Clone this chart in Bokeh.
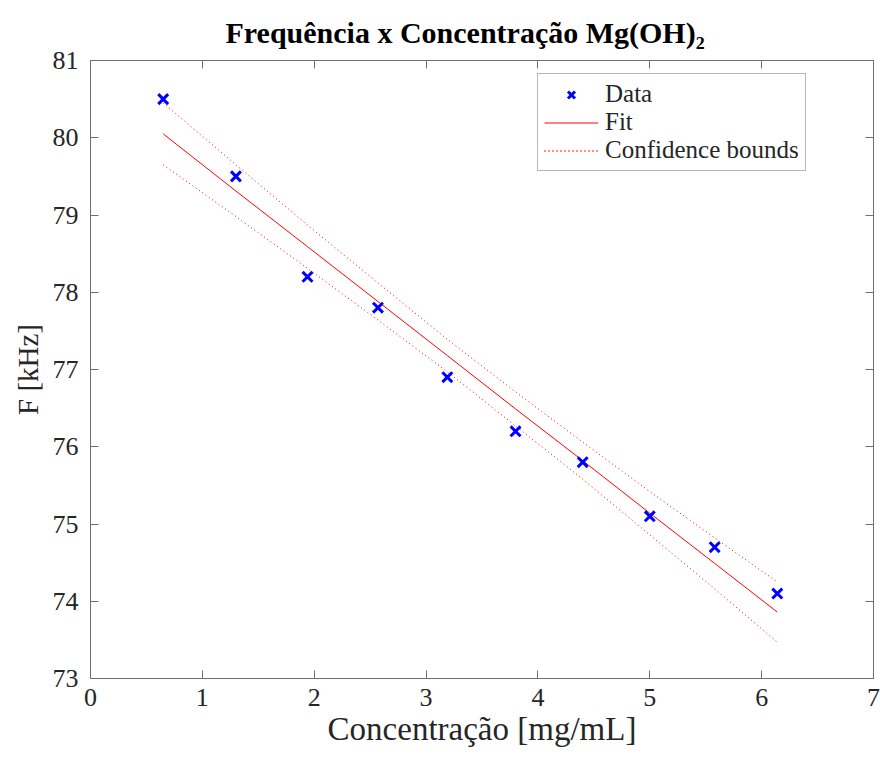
from bokeh.plotting import figure
from bokeh.models import LinearAxis, FixedTicker, Legend, LegendItem, Range1d
from bokeh.embed import file_html
from bokeh.resources import INLINE

# ---- data ----
conc = [0.65, 1.30, 1.94, 2.57, 3.19, 3.80, 4.40, 5.00, 5.58, 6.14]
freq = [80.5, 79.5, 78.2, 77.8, 76.9, 76.2, 75.8, 75.1, 74.7, 74.1]

fit_x = [0.65, 1.30, 1.94, 2.57, 3.19, 3.80, 4.40, 5.00, 5.58, 6.14]
fit_y = [80.05, 79.31, 78.59, 77.88, 77.18, 76.49, 75.82, 75.14, 74.49, 73.86]
upper_y = [80.45, 79.65, 78.87, 78.12, 77.39, 76.71, 76.06, 75.42, 74.82, 74.25]
lower_y = [79.65, 78.98, 78.31, 77.64, 76.97, 76.27, 75.58, 74.86, 74.16, 73.47]

x_ticks = [0, 1, 2, 3, 4, 5, 6, 7]
y_ticks = [73, 74, 75, 76, 77, 78, 79, 80, 81]

title_main = "Frequência x Concentração Mg(OH)"
title_sub = "\u2082"
x_label = "Concentração [mg/mL]"
y_label = "F [kHz]"
legend_labels = ["Data", "Fit", "Confidence bounds"]

FONT = "Liberation Serif"
AX_COLOR = "#6f6f6f"
TXT_COLOR = "#262626"

p = figure(frame_width=783, frame_height=618,
           x_range=Range1d(0, 7), y_range=Range1d(73, 81),
           output_backend="svg", toolbar_location=None,
           min_border_left=90, min_border_right=7,
           min_border_top=60, min_border_bottom=79,
           x_axis_label=x_label, y_axis_label=y_label)

p.grid.visible = False
p.outline_line_color = AX_COLOR
p.outline_line_width = 1
p.background_fill_color = "white"
p.border_fill_color = "white"

for ax, ticks in ((p.xaxis[0], x_ticks), (p.yaxis[0], y_ticks)):
    ax.ticker = FixedTicker(ticks=ticks)
    ax.major_tick_in = 8
    ax.major_tick_out = 0
    ax.minor_tick_line_color = None
    ax.axis_line_color = AX_COLOR
    ax.major_tick_line_color = AX_COLOR
    ax.major_label_text_font = FONT
    ax.major_label_text_font_size = "26px"
    ax.major_label_text_color = TXT_COLOR
    ax.axis_label_text_font = FONT
    ax.axis_label_text_font_style = "normal"
    ax.axis_label_text_color = TXT_COLOR

p.xaxis[0].axis_label_text_font_size = "33px"
p.yaxis[0].axis_label_text_font_size = "29px"
p.xaxis[0].major_label_standoff = 10
p.xaxis[0].axis_label_standoff = 2
p.yaxis[0].major_label_standoff = 12
p.yaxis[0].axis_label_standoff = 6

# box ticks on top and right (no labels)
for loc, ticks in (("right", y_ticks), ("above", x_ticks)):
    ax = LinearAxis(ticker=FixedTicker(ticks=ticks))
    ax.major_tick_in = 8
    ax.major_tick_out = 0
    ax.minor_tick_line_color = None
    ax.axis_line_color = AX_COLOR
    ax.major_tick_line_color = AX_COLOR
    ax.major_label_overrides = {t: "" for t in ticks}
    ax.major_label_standoff = 0
    p.add_layout(ax, loc)

# glyphs
r_up = p.line(fit_x, upper_y, line_color="red", line_width=1, line_dash="1 3")
r_lo = p.line(fit_x, lower_y, line_color="red", line_width=1, line_dash="1 3")
r_fit = p.line(fit_x, fit_y, line_color="red", line_width=1)
r_data = p.scatter(conc, freq, marker="x", size=14, line_color="blue", line_width=3)

legend = Legend(items=[
    LegendItem(label=legend_labels[0], renderers=[r_data]),
    LegendItem(label=legend_labels[1], renderers=[r_fit]),
    LegendItem(label=legend_labels[2], renderers=[r_up, r_lo]),
], location=(447, 507))
legend.label_text_font = FONT
legend.label_text_font_size = "25px"
legend.label_text_color = TXT_COLOR
legend.glyph_width = 54
legend.glyph_height = 25
legend.label_height = 25
legend.spacing = 0
legend.padding = 6
legend.margin = 0
legend.label_standoff = 7
legend.border_line_color = AX_COLOR
legend.border_line_width = 1
legend.background_fill_color = "white"
legend.background_fill_alpha = 1
p.add_layout(legend, "center")

# title
p.title.text = title_main + title_sub
p.title.align = "left"
p.title.offset = 135
p.title.text_font = FONT
p.title.text_font_size = "30px"
p.title.text_font_style = "bold"
p.title.text_color = "black"
p.title.standoff = 24

open("out.html", "w").write(file_html(p, INLINE))
